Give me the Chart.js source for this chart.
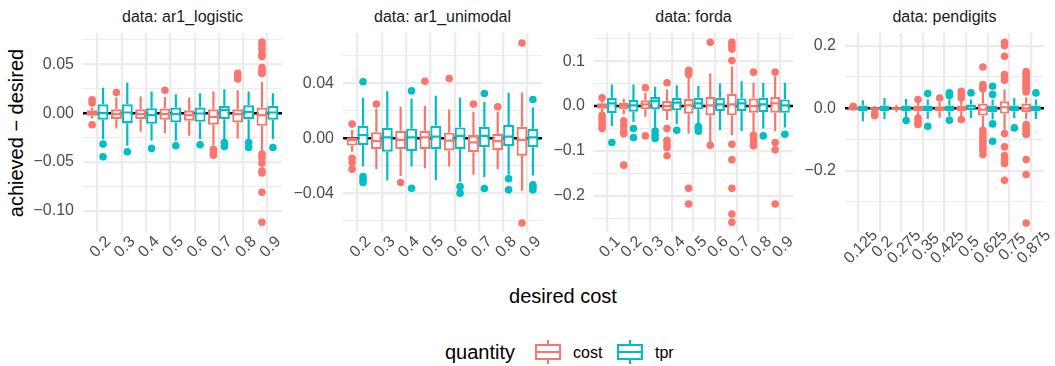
<!DOCTYPE html>
<html>
<head>
<meta charset="utf-8">
<title>achieved - desired</title>
<script src="https://cdn.jsdelivr.net/npm/chart.js"></script>
<style>
  body { margin:0; background:#fff; width:1055px; height:366px; overflow:hidden; position:relative;
         font-family:"Liberation Sans", Arial, sans-serif; }
  canvas { position:absolute; top:0; }
  .strip { position:absolute; top:9px; width:199px; text-align:center; font-size:16px; line-height:16px; color:#1a1a1a; white-space:nowrap; }
  .ytitle { position:absolute; left:16px; top:133px; transform:translate(-50%,-50%) rotate(-90deg);
            font-size:20px; line-height:20px; white-space:nowrap; }
  .xtitle { position:absolute; left:563px; top:286px; transform:translateX(-50%); font-size:20px; line-height:20px; white-space:nowrap; }
  .lg { position:absolute; white-space:nowrap; }
  .key { position:absolute; top:340px; width:26px; height:24px; }
  .key .w { position:absolute; left:12px; top:0; width:2px; height:24px; }
  .key .b { position:absolute; left:0; top:4px; width:22px; height:12px; border:2px solid; background:#fff; }
  .key .m { position:absolute; left:0; top:11px; width:26px; height:2px; }
</style>
</head>
<body>
<div class="ytitle">achieved − desired</div>
<div class="xtitle">desired cost</div>
<div class="lg" style="left:445px; top:342px; font-size:20px; line-height:20px;">quantity</div>
<div class="key" style="left:535px;"><div class="w" style="background:#F8766D"></div><div class="b" style="border-color:#F8766D"></div><div class="m" style="background:#F8766D"></div></div>
<div class="lg" style="left:573px; top:345px; font-size:16px; line-height:16px;">cost</div>
<div class="key" style="left:617px;"><div class="w" style="background:#00BFC4"></div><div class="b" style="border-color:#00BFC4"></div><div class="m" style="background:#00BFC4"></div></div>
<div class="lg" style="left:655px; top:345px; font-size:16px; line-height:16px;">tpr</div>
<script>
// ---- data: box stats are [lower whisker, q1, median, q3, upper whisker] ----
const titles = ['data: ar1_logistic', 'data: ar1_unimodal', 'data: forda', 'data: pendigits'];

const costsA = ['0.2', '0.3', '0.4', '0.5', '0.6', '0.7', '0.8', '0.9'];
const costsForda = ['0.1', '0.2', '0.3', '0.4', '0.5', '0.6', '0.7', '0.8', '0.9'];
const costsPen = ['0.125', '0.2', '0.275', '0.35', '0.425', '0.5', '0.625', '0.75', '0.875'];

// ar1_logistic
const logCost = [
  [-0.0055, -0.0027, 0.0, 0.0031, 0.0058], [-0.0157, -0.0061, -0.001, 0.0041, 0.016],
  [-0.0191, -0.0061, -0.001, 0.0041, 0.017], [-0.0204, -0.0068, -0.001, 0.0048, 0.0167],
  [-0.0232, -0.0078, -0.002, 0.0031, 0.016], [-0.033, -0.0119, -0.0037, 0.0041, 0.0222],
  [-0.0259, -0.0095, -0.001, 0.0041, 0.0235], [-0.0385, -0.013, -0.002, 0.0058, 0.032]];
const logTpr = [
  [-0.0266, -0.0068, 0.0, 0.0092, 0.0262], [-0.0334, -0.0102, 0.0007, 0.0092, 0.0314],
  [-0.0283, -0.0109, -0.002, 0.0051, 0.0222], [-0.0283, -0.0095, -0.001, 0.0058, 0.0194],
  [-0.0266, -0.0089, -0.0003, 0.0058, 0.0204], [-0.0266, -0.0061, 0.0031, 0.0075, 0.0245],
  [-0.0283, -0.0061, 0.0014, 0.0082, 0.0222], [-0.0266, -0.0068, 0.0007, 0.0075, 0.0204]];
const logCostOut = [[0.0136, 0.0105, -0.0119], [0.0211], [], [0.0235], [], [-0.037, -0.040, -0.043],
  [0.041, 0.038, 0.035],
  [0.0729, 0.0695, 0.0654, 0.0603, 0.058, 0.0467, 0.0433, 0.0406, -0.0419, -0.0453, -0.0511, -0.059, -0.0613, -0.0811, -0.1118]];
const logTprOut = [[-0.0317, -0.0447], [-0.0395], [-0.0361], [-0.0334], [-0.0324], [-0.030, -0.0341], [-0.030, -0.0351], [-0.0351]];

// ar1_unimodal
const uniCost = [
  [-0.0097, -0.0053, -0.0012, 0.0007, 0.006], [-0.0224, -0.0077, -0.002, 0.0043, 0.0212],
  [-0.0273, -0.008, -0.0012, 0.0055, 0.0229], [-0.0217, -0.008, 0.0007, 0.0055, 0.0234],
  [-0.0205, -0.0089, -0.0017, 0.0041, 0.0209], [-0.0265, -0.0101, -0.0029, 0.0024, 0.0193],
  [-0.0224, -0.0085, -0.002, 0.0031, 0.0193], [-0.0381, -0.0126, -0.0012, 0.0084, 0.0332]];
const uniTpr = [
  [-0.0205, -0.0048, 0.0024, 0.0091, 0.0294], [-0.0306, -0.0097, 0.0007, 0.0077, 0.0342],
  [-0.0205, -0.0092, 0.0007, 0.007, 0.0289], [-0.0302, -0.008, 0.0012, 0.0091, 0.0308],
  [-0.0315, -0.0077, 0.0017, 0.0079, 0.0296], [-0.0282, -0.0065, 0.0017, 0.0084, 0.0265],
  [-0.0265, -0.0056, 0.0012, 0.0096, 0.033], [-0.027, -0.0065, 0.0007, 0.0067, 0.0224]];
const uniCostOut = [[0.0103, -0.0145, -0.0176, -0.0224], [0.0248], [-0.0321], [0.0414], [0.0434], [0.0248], [0.0229], [0.0691, -0.0615]];
const uniTprOut = [[0.041, -0.0277, -0.0302, -0.0321], [], [0.0344, -0.0362], [], [-0.035, -0.0398], [0.0325, -0.0364],
  [-0.0294, -0.0374], [0.0282, -0.0338, -0.0355, -0.0374]];

// forda
const fordaCost = [
  [-0.0147, -0.0058, 0.0, 0.006, 0.0134], [-0.0185, -0.0073, 0.0, 0.0075, 0.0164],
  [-0.0236, -0.0073, 0.0038, 0.0127, 0.0297], [-0.031, -0.011, 0.0, 0.0112, 0.0371],
  [-0.0614, -0.017, 0.0015, 0.0164, 0.0667], [-0.0814, -0.0207, 0.0015, 0.0201, 0.0727],
  [-0.0651, -0.0207, 0.0038, 0.0275, 0.0875], [-0.0592, -0.0147, 0.0, 0.0171, 0.0519],
  [-0.0555, -0.0147, 0.006, 0.0201, 0.0667]];
const fordaTpr = [
  [-0.0444, -0.0162, 0.006, 0.0186, 0.0482], [-0.0355, -0.0125, 0.0015, 0.0134, 0.0482],
  [-0.048, -0.0073, 0.0112, 0.0201, 0.043], [-0.0407, -0.0096, 0.0075, 0.0186, 0.0467],
  [-0.0407, -0.0073, 0.006, 0.0186, 0.0445], [-0.0533, -0.011, 0.0038, 0.0186, 0.0504],
  [-0.0555, -0.011, 0.006, 0.0171, 0.0556], [-0.0503, -0.0133, 0.0038, 0.0186, 0.0519],
  [-0.048, -0.0147, 0.0015, 0.0149, 0.0519]];
const fordaCostOut = [[0.0186, -0.0207, -0.0281, -0.037, -0.0444, -0.0503], [-0.033, -0.044, -0.055, -0.062, -0.1318],
  [0.0408, -0.0666], [0.0519, -0.0503, -0.0762, -0.085, -0.0925, -0.111], [0.08, 0.0756, 0.0704, -0.1836, -0.2184],
  [0.1423, -0.0873], [0.1423, 0.1349, 0.1275, 0.1016, -0.0851, -0.12, -0.1836, -0.2407, -0.2592],
  [0.0756, -0.0651, -0.0725, -0.0814, -0.0888], [0.0756, -0.0814, -0.0977, -0.2184]];
const fordaTprOut = [[-0.0814], [-0.0503, -0.0703], [-0.0555, -0.0651, -0.0725], [-0.054], [-0.0458, -0.0503, -0.0562],
  [], [], [-0.0666], [-0.0629]];

// pendigits
const penCost = [
  [-0.002, -0.001, 0.0, 0.001, 0.003], [-0.009, -0.003, 0.0, 0.003, 0.007],
  [-0.013, -0.003, 0.0, 0.003, 0.011], [-0.023, -0.0095, 0.0, 0.0086, 0.019],
  [-0.03, -0.0095, 0.0, 0.0065, 0.019], [-0.027, -0.0095, 0.0, 0.0086, 0.03],
  [-0.06, -0.0234, -0.0042, 0.015, 0.056], [-0.068, -0.017, 0.0033, 0.0225, 0.06],
  [-0.035, -0.0127, 0.0, 0.015, 0.035]];
const penTpr = [
  [-0.0415, -0.0095, -0.0019, 0.0086, 0.0257], [-0.034, -0.0095, 0.0, 0.0086, 0.0332],
  [-0.0276, -0.0095, -0.0019, 0.0086, 0.03], [-0.034, -0.0095, 0.0, 0.0086, 0.0279],
  [-0.0255, -0.0095, 0.0, 0.0086, 0.0279], [-0.0308, -0.0063, 0.0065, 0.0118, 0.0279],
  [-0.0362, -0.0127, -0.0019, 0.0086, 0.0279], [-0.0308, -0.0095, 0.0, 0.0086, 0.0332],
  [-0.034, -0.0095, 0.0, 0.0086, 0.0279]];
const penCostOut = [[0.006, 0.004], [-0.0148, -0.0234], [], [0.028, -0.031, -0.042, -0.052], [0.033],
  [0.0544, 0.044, 0.033, -0.036],
  [0.1324, 0.0758, 0.0684, 0.062, -0.0703, -0.081, -0.0916, -0.1023, -0.113, -0.1236, -0.1343, -0.1482],
  [0.2113, 0.2006, 0.1665, 0.1078, 0.097, 0.09, -0.081, -0.1236, -0.1514, -0.1642, -0.177, -0.2304],
  [0.118, 0.112, 0.105, 0.098, 0.09, 0.082, 0.075, 0.068, 0.06, 0.052, -0.052, -0.06, -0.068, -0.076, -0.084, -0.164, -0.212, -0.367]];
const penTprOut = [[], [], [-0.0394], [0.047, -0.0575], [0.0492, 0.0406, -0.0383], [0.0492],
  [0.0705, 0.0438, -0.05, -0.1055], [-0.0628], [0.0492]];

// y axes
const yLimits = [[-0.1218, 0.0822], [-0.068, 0.0764], [-0.281, 0.163], [-0.396, 0.241]];
const yMajor = [[-0.10, -0.05, 0, 0.05], [-0.04, 0, 0.04], [-0.2, -0.1, 0, 0.1], [-0.2, 0, 0.2]];
const yMajorLabels = [['\u22120.10', '\u22120.05', '0.00', '0.05'], ['\u22120.04', '0.00', '0.04'],
  ['\u22120.2', '\u22120.1', '0.0', '0.1'], ['\u22120.2', '0.0', '0.2']];
const yMinor = [[-0.075, -0.025, 0.025, 0.075], [-0.06, -0.02, 0.02, 0.06], [-0.25, -0.15, -0.05, 0.05, 0.15], [-0.3, -0.1, 0.1]];

// ---- layout ----
const COST = '#F8766D', TPR = '#00BFC4';
const panelLeft = [83, 343, 594, 845];
const panelW = 199, axisW = 70, padR = 12;
const DODGE = 0.225;   // box centre offset, in category units
const HALF = 0.225;    // half box width, in category units

const panels = [
  {cats: costsA, cost: logCost, tpr: logTpr, costOut: logCostOut, tprOut: logTprOut},
  {cats: costsA, cost: uniCost, tpr: uniTpr, costOut: uniCostOut, tprOut: uniTprOut},
  {cats: costsForda, cost: fordaCost, tpr: fordaTpr, costOut: fordaCostOut, tprOut: fordaTprOut},
  {cats: costsPen, cost: penCost, tpr: penTpr, costOut: penCostOut, tprOut: penTprOut}
];

function boxes(stats) { return stats.map((s, i) => ({x: i, y: [s[1], s[3]]})); }
function whiskers(stats, off) {
  const pts = [];
  stats.forEach((s, i) => {
    const x = i + off;
    pts.push({x, y: s[0]}, {x, y: s[1]}, {x, y: null}, {x, y: s[3]}, {x, y: s[4]}, {x, y: null});
  });
  return pts;
}
function medians(stats, off) {
  const pts = [];
  stats.forEach((s, i) => {
    pts.push({x: i + off - HALF, y: s[2]}, {x: i + off + HALF, y: s[2]}, {x: i + off, y: null});
  });
  return pts;
}
function outliers(outs, off) {
  const pts = [];
  outs.forEach((arr, i) => arr.forEach(v => pts.push({x: i + off, y: v})));
  return pts;
}

// rotated x labels are centred on their tick (like ggplot), not right aligned
const centreLabels = {
  id: 'centreLabels',
  beforeDraw(chart) {
    const sc = chart.scales.x;
    sc.getLabelItems().forEach((it, i) => {
      it.options.textAlign = 'center';
      it.options.textBaseline = 'middle';
      it.options.translation = [sc.getPixelForTick(i) + 3, sc.top + 15];
      it.textOffset = 0;
    });
  }
};

Chart.defaults.font.family = '"Liberation Sans", Arial, sans-serif';

panels.forEach((p, k) => {
  const strip = document.createElement('div');
  strip.className = 'strip';
  strip.style.left = panelLeft[k] + 'px';
  strip.textContent = titles[k];
  document.body.appendChild(strip);

  const cv = document.createElement('canvas');
  cv.width = axisW + panelW + padR;
  cv.height = 280;
  cv.style.left = (panelLeft[k] - axisW) + 'px';
  document.body.appendChild(cv);

  const n = p.cats.length;
  const major = yMajor[k];
  const isMajor = v => major.some(m => Math.abs(m - v) < 1e-9);
  const lineDs = (data, color, order) => ({type: 'line', data, borderColor: color, borderWidth: 2.2,
    pointRadius: 0, spanGaps: false, order});
  const pointDs = (data, color) => ({type: 'line', data, showLine: false, pointRadius: 3.8,
    pointBorderWidth: 0, pointBackgroundColor: color, backgroundColor: color, order: 4});

  new Chart(cv, {
    type: 'bar',
    data: {
      datasets: [
        {label: 'cost', data: boxes(p.cost), backgroundColor: '#fff', borderColor: COST, borderWidth: 2.2,
         borderSkipped: false, categoryPercentage: 0.9, barPercentage: 1, order: 1},
        {label: 'tpr', data: boxes(p.tpr), backgroundColor: '#fff', borderColor: TPR, borderWidth: 2.2,
         borderSkipped: false, categoryPercentage: 0.9, barPercentage: 1, order: 1},
        lineDs(medians(p.cost, -DODGE), COST, 0),
        lineDs(medians(p.tpr, DODGE), TPR, 0),
        lineDs(whiskers(p.cost, -DODGE), COST, 2),
        lineDs(whiskers(p.tpr, DODGE), TPR, 2),
        pointDs(outliers(p.costOut, -DODGE), COST),
        pointDs(outliers(p.tprOut, DODGE), TPR),
        {type: 'line', data: [{x: -0.6, y: 0}, {x: n - 0.4, y: 0}], borderColor: '#000', borderWidth: 2.4,
         pointRadius: 0, order: 9}
      ]
    },
    plugins: [centreLabels],
    options: {
      responsive: false, animation: false, devicePixelRatio: 1, events: [],
      layout: {padding: {top: 33, right: padR, left: 0, bottom: 0}},
      plugins: {legend: {display: false}, tooltip: {enabled: false}},
      scales: {
        x: {
          type: 'linear', min: -0.6, max: n - 0.4, offset: false,
          grid: {color: '#EBEBEB', lineWidth: 2.2, drawTicks: false, offset: false},
          border: {display: false},
          afterBuildTicks: s => { s.ticks = p.cats.map((c, i) => ({value: i})); },
          afterFit: s => { s.height = 48; },
          ticks: {autoSkip: false, minRotation: 45, maxRotation: 45, color: '#4D4D4D', font: {size: 16},
                  padding: 2, callback: v => p.cats[v]}
        },
        y: {
          min: yLimits[k][0], max: yLimits[k][1],
          grid: {color: '#EBEBEB', drawTicks: false, lineWidth: c => (c.tick && isMajor(c.tick.value)) ? 2.2 : 1.1},
          border: {display: false},
          afterBuildTicks: s => { s.ticks = major.concat(yMinor[k]).sort((a, b) => a - b).map(v => ({value: v})); },
          afterFit: s => { s.width = axisW; },
          ticks: {color: '#4D4D4D', font: {size: 16}, padding: 9,
                  callback: v => { const j = major.findIndex(m => Math.abs(m - v) < 1e-9); return j >= 0 ? yMajorLabels[k][j] : ''; }}
        }
      }
    }
  });
});
</script>
</body>
</html>
